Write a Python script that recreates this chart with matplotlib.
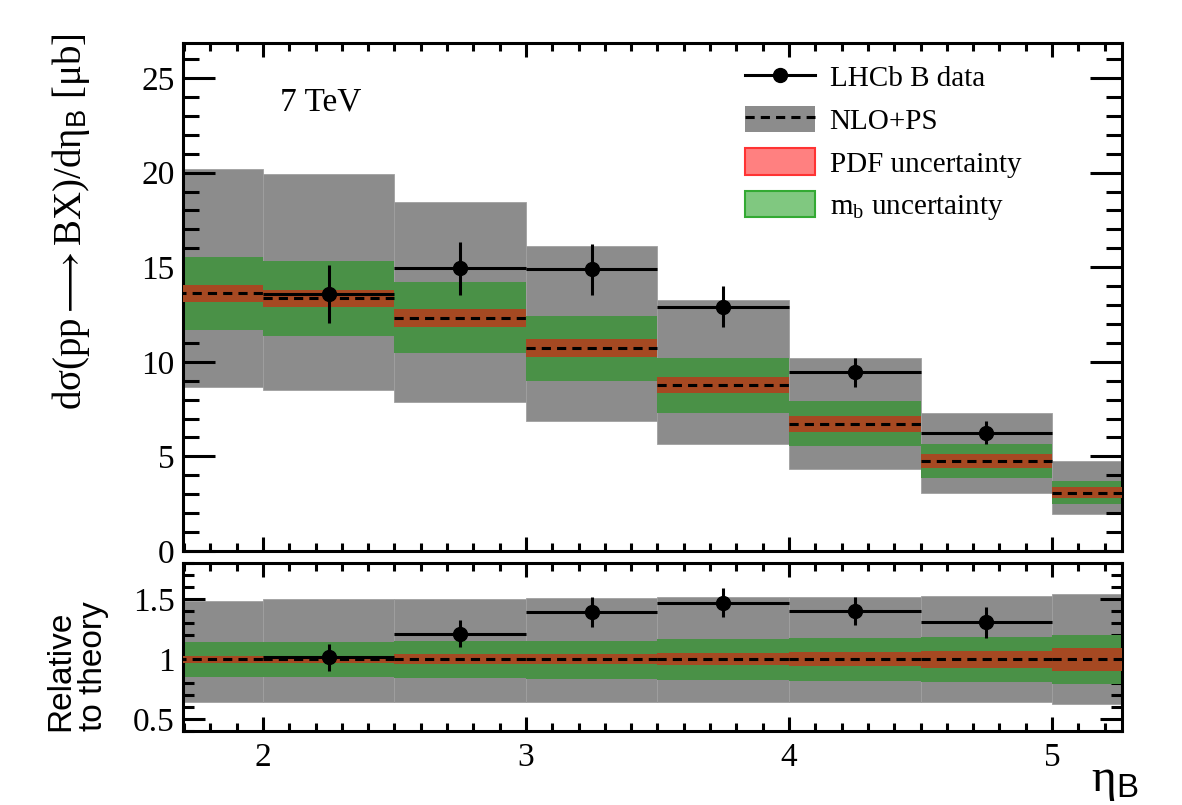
import matplotlib
matplotlib.use("Agg")
import matplotlib.pyplot as plt
from matplotlib.lines import Line2D
from matplotlib.patches import Patch

plt.rcParams["font.family"] = ["Liberation Serif", "DejaVu Serif"]
plt.rcParams["mathtext.fontset"] = "custom"
plt.rcParams["mathtext.rm"] = "Liberation Serif"
plt.rcParams["mathtext.sf"] = "Liberation Sans"
plt.rcParams["mathtext.it"] = "Liberation Serif:italic"
plt.rcParams["mathtext.fallback"] = "stix"

# theory bins (left edges, width 0.5)
bin_lo = [1.5, 2.0, 2.5, 3.0, 3.5, 4.0, 4.5, 5.0]
bin_w = 0.5

# NLO+PS prediction [mub]
nlo_central = [13.62, 13.35, 12.33, 10.71, 8.77, 6.71, 4.76, 3.08]
nlo_up = [20.17, 19.93, 18.43, 16.12, 13.27, 10.22, 7.28, 4.76]
nlo_down = [8.68, 8.51, 7.86, 6.89, 5.64, 4.32, 3.05, 1.96]
mb_up = [15.52, 15.33, 14.22, 12.42, 10.22, 7.93, 5.66, 3.70]
mb_down = [11.68, 11.36, 10.45, 9.00, 7.31, 5.55, 3.84, 2.47]
pdf_up = [14.04, 13.79, 12.77, 11.19, 9.21, 7.14, 5.13, 3.37]
pdf_down = [13.18, 12.91, 11.86, 10.24, 8.33, 6.31, 4.40, 2.82]

# LHCb data
data_eta = [2.25, 2.75, 3.25, 3.75, 4.25, 4.75]
data_val = [13.57, 14.94, 14.90, 12.91, 9.44, 6.25]
data_err = [1.52, 1.40, 1.35, 1.08, 0.77, 0.62]

# ratio panel
r_central = [1, 1, 1, 1, 1, 1, 1, 1]
r_up = [1.483, 1.497, 1.500, 1.506, 1.514, 1.514, 1.528, 1.542]
r_down = [0.639, 0.639, 0.639, 0.644, 0.644, 0.639, 0.639, 0.625]
r_mb_up = [1.139, 1.144, 1.153, 1.153, 1.164, 1.172, 1.186, 1.200]
r_mb_down = [0.853, 0.847, 0.839, 0.833, 0.825, 0.817, 0.806, 0.792]
r_pdf_up = [1.025, 1.027, 1.040, 1.042, 1.047, 1.056, 1.069, 1.089]
r_pdf_down = [0.969, 0.970, 0.958, 0.956, 0.950, 0.942, 0.922, 0.903]
r_data = [1.014, 1.211, 1.389, 1.469, 1.400, 1.306]
r_err = [0.114, 0.110, 0.124, 0.120, 0.115, 0.130]

gray = "#8c8c8c"
green = "#4a9147"
brown = "#a64922"
dash = (0, (3, 2))

W, H = 1182, 805
fig = plt.figure(figsize=(W / 100, H / 100), dpi=100)
ax1 = fig.add_axes([183 / W, 1 - 551 / H, 939 / W, 508 / H])
ax2 = fig.add_axes([183 / W, 1 - 731 / H, 939 / W, 168 / H])


def bands(ax, cen, up, down, mup, mdown, pup, pdown):
    ax.bar(bin_lo, [u - d for u, d in zip(up, down)], bottom=down, width=bin_w,
           align="edge", color=gray, edgecolor="#a0a0a0", linewidth=0.6, zorder=1)
    ax.bar(bin_lo, [u - d for u, d in zip(mup, mdown)], bottom=mdown, width=bin_w,
           align="edge", color=green, linewidth=0, zorder=2)
    ax.bar(bin_lo, [u - d for u, d in zip(pup, pdown)], bottom=pdown, width=bin_w,
           align="edge", color=brown, linewidth=0, zorder=3)
    ax.hlines(cen, bin_lo, [b + bin_w for b in bin_lo], colors="k",
              linestyles=dash, linewidth=2.2, zorder=4)


bands(ax1, nlo_central, nlo_up, nlo_down, mb_up, mb_down, pdf_up, pdf_down)
ax1.errorbar(data_eta, data_val, xerr=0.25, yerr=data_err, fmt="o", color="k",
             ms=10, elinewidth=2.2, capsize=0, zorder=5)

bands(ax2, r_central, r_up, r_down, r_mb_up, r_mb_down, r_pdf_up, r_pdf_down)
ax2.errorbar(data_eta, r_data, xerr=0.25, yerr=r_err, fmt="o", color="k",
             ms=10, elinewidth=2.2, capsize=0, zorder=5)

for ax in (ax1, ax2):
    ax.set_xlim(1.696, 5.266)
    ax.set_xticks([2, 3, 4, 5])
    ax.set_xticks([x / 10 for x in range(17, 53)], minor=True)
    for s in ax.spines.values():
        s.set_linewidth(2.2)
    ax.tick_params(which="both", direction="in", top=True, right=True, width=2.2,
                   labelsize=24)
    ax.tick_params(axis="x", which="major", length=10, pad=8)
    ax.tick_params(axis="x", which="minor", length=5.5)

ax1.set_ylim(0, 26.85)
ax1.set_yticks([0, 5, 10, 15, 20, 25])
ax1.set_yticks(range(0, 27), minor=True)
ax1.tick_params(axis="y", which="major", length=23, pad=6)
ax1.tick_params(axis="y", which="minor", length=11.5)
ax1.tick_params(axis="x", labelbottom=False)

ax2.set_ylim(0.4, 1.8)
ax2.set_yticks([0.5, 1, 1.5])
ax2.set_yticklabels(["0.5", "1", "1.5"])
ax2.set_yticks([x / 10 for x in range(4, 19)], minor=True)
ax2.tick_params(axis="y", which="major", length=16, pad=6)
ax2.tick_params(axis="y", which="minor", length=8)

ax1.text(0.103, 0.884, "7 TeV", transform=ax1.transAxes, fontsize=24,
         ha="left", va="center")

handles = [
    Line2D([], [], color="k", marker="o", ms=10, lw=2.2),
    (Patch(facecolor=gray, edgecolor="none"),
     Line2D([], [], color="k", ls=dash, lw=2.2)),
    Patch(facecolor="#ff8080", edgecolor="#ff3333", linewidth=1.5),
    Patch(facecolor="#80c880", edgecolor="#33aa33", linewidth=1.5),
]
labels = ["LHCb B data", "NLO+PS", "PDF uncertainty", "m$_{\\mathregular{b}}$ uncertainty"]
fig.legend(handles, labels, loc="upper left", bbox_to_anchor=(745 / W, 1 - 63 / H),
           frameon=False, fontsize=21, handlelength=2.4, handleheight=1.0,
           handletextpad=0.5, labelspacing=0.47, borderpad=0, borderaxespad=0)

fig.text(71 / W, 1 - 410 / H, "dσ(pp$\\longrightarrow$BX)/dη$_\\mathsf{B}$ [μb]",
         rotation=90, fontsize=28, ha="center", va="bottom")
fig.text(77 / W, 1 - 731 / H, "Relative\nto theory", rotation=90, fontsize=24,
         family="Liberation Sans", ha="center", va="bottom", multialignment="left",
         linespacing=1.1)
fig.text(1138 / W, 1 - 803 / H, "η$_\\mathsf{B}$", fontsize=34, ha="right",
         va="bottom")

fig.savefig("out.png", dpi=100)
